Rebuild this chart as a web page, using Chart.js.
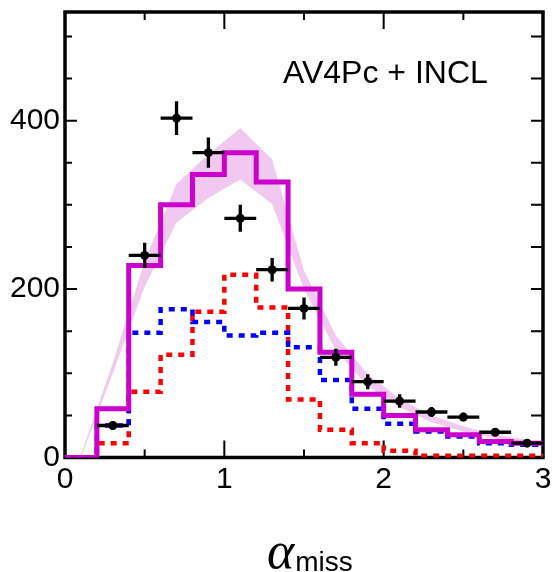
<!DOCTYPE html>
<html>
<head>
<meta charset="utf-8">
<script src="https://cdn.jsdelivr.net/npm/chart.js@4.4.1/dist/chart.umd.min.js"></script>
<style>
  html, body { margin: 0; padding: 0; background: #fff; }
  #wrap { position: relative; width: 554px; height: 572px; }
  #label { position: absolute; left: 283px; top: 56px; font: 32px "Liberation Sans", Arial, sans-serif; line-height: 1; white-space: nowrap; }
  #xtitle { position: absolute; left: 267px; top: 521px; font-size: 52px; line-height: 1; white-space: nowrap; }
  #xtitle .a { font: italic 52px "Liberation Serif", serif; }
  #xtitle .s { font: 28px "Liberation Sans", Arial, sans-serif; position: relative; top: 3px; margin-left: 1px; }
</style>
</head>
<body>
<div id="wrap">
  <canvas id="chart" width="554" height="572"></canvas>
  <div id="label">AV4Pc + INCL</div>
  <div id="xtitle"><span class="a">α</span><span class="s">miss</span></div>
</div>
<script>
// bin edges of the histograms (0.2 wide)
const binEdges = [0, 0.2, 0.4, 0.6, 0.8, 1.0, 1.2, 1.4, 1.6, 1.8, 2.0, 2.2, 2.4, 2.6, 2.8, 3.0];
const binCenters = [0.1, 0.3, 0.5, 0.7, 0.9, 1.1, 1.3, 1.5, 1.7, 1.9, 2.1, 2.3, 2.5, 2.7, 2.9];

// one value per bin
const totalHist = [0, 58, 228, 300, 336, 362, 327, 200, 125, 75, 50, 33, 27, 19, 17];
const blueHist = [0, 38, 148, 176, 161, 145, 148, 131, 92, 58, 40, 31, 25, 17, 15];
const redHist = [0, 17, 78, 122, 173, 217, 178, 69, 33, 17, 8, 2, 2, 2, 2];

// shaded band at the bin centres
const bandUpper = [3, 112, 233, 325, 360, 391, 354, 222, 145, 99, 70, 50, 37, 27, 21];
const bandLower = [0, 100, 203, 279, 308, 330, 301, 200, 127, 85, 60, 42, 31, 23, 17];

// data points
const dataX = [0.3, 0.5, 0.7, 0.9, 1.1, 1.3, 1.5, 1.7, 1.9, 2.1, 2.3, 2.5, 2.7, 2.9];
const dataY = [38, 240, 403, 362, 284, 223, 177, 119, 90, 67, 54, 48, 30, 17];
const dataErr = [5, 15, 20, 18, 16, 14, 13, 10, 9, 8, 6, 5, 4, 3];
const xErr = 0.1;

const xTicks = [0, 1, 2, 3];
const yTicks = [0, 200, 400];

function histPoints(vals) {
  const pts = vals.map((v, i) => ({ x: binEdges[i], y: v }));
  pts.push({ x: binEdges[binEdges.length - 1], y: vals[vals.length - 1] });
  return pts;
}

function bandPoints(vals) {
  return vals.map((v, i) => ({ x: binCenters[i], y: v }));
}

// frame + inward ticks on all four sides
const frameTicks = {
  id: "frameTicks",
  beforeDatasetsDraw(chart) {
    const { ctx, chartArea: a, scales } = chart;
    const xs = scales.x, ys = scales.y;
    ctx.save();
    ctx.strokeStyle = "#000";
    ctx.lineWidth = 2;
    ctx.beginPath();
    for (let v = 0; v <= 3.001; v += 0.5) {
      const px = xs.getPixelForValue(v);
      const len = Math.abs(v - Math.round(v)) < 1e-6 ? 17 : 8;
      ctx.moveTo(px, a.bottom); ctx.lineTo(px, a.bottom - len);
      ctx.moveTo(px, a.top); ctx.lineTo(px, a.top + len);
    }
    for (let v = 0; v <= 529; v += 50) {
      const py = ys.getPixelForValue(v);
      const len = v % 200 === 0 ? 12 : 7;
      ctx.moveTo(a.left, py); ctx.lineTo(a.left + len, py);
      ctx.moveTo(a.right, py); ctx.lineTo(a.right - 12, py);
    }
    ctx.stroke();
    ctx.lineWidth = 3.5;
    ctx.strokeRect(a.left, a.top, a.right - a.left, a.bottom - a.top);
    ctx.restore();
  }
};

const errorBars = {
  id: "errorBars",
  afterDatasetsDraw(chart) {
    const { ctx, scales } = chart;
    const xs = scales.x, ys = scales.y;
    ctx.save();
    ctx.strokeStyle = "#000";
    ctx.lineWidth = 3.3;
    ctx.beginPath();
    dataX.forEach((x, i) => {
      const y = dataY[i];
      ctx.moveTo(xs.getPixelForValue(x - xErr), ys.getPixelForValue(y));
      ctx.lineTo(xs.getPixelForValue(x + xErr), ys.getPixelForValue(y));
      ctx.moveTo(xs.getPixelForValue(x), ys.getPixelForValue(y - dataErr[i]));
      ctx.lineTo(xs.getPixelForValue(x), ys.getPixelForValue(y + dataErr[i]));
    });
    ctx.stroke();
    ctx.restore();
  }
};

const ctx = document.getElementById("chart").getContext("2d");
const chart = new Chart(ctx, {
  type: "line",
  data: {
    datasets: [
      {
        data: dataX.map((x, i) => ({ x, y: dataY[i] })),
        showLine: false,
        pointRadius: 4.5,
        pointBackgroundColor: "#000",
        pointBorderWidth: 0,
        order: 1,
      },
      {
        data: histPoints(totalHist),
        stepped: true,
        borderColor: "#cc00cc",
        borderWidth: 5,
        pointRadius: 0,
        fill: false,
        order: 2,
      },
      {
        data: histPoints(blueHist),
        stepped: true,
        borderColor: "#0000ff",
        borderWidth: 4.5,
        borderDash: [6, 6],
        pointRadius: 0,
        fill: false,
        order: 3,
      },
      {
        data: histPoints(redHist),
        stepped: true,
        borderColor: "#ff0000",
        borderWidth: 4.5,
        borderDash: [6, 6],
        pointRadius: 0,
        fill: false,
        order: 4,
      },
      {
        data: bandPoints(bandLower),
        borderWidth: 0,
        pointRadius: 0,
        fill: false,
        order: 10,
      },
      {
        data: bandPoints(bandUpper),
        borderWidth: 0,
        pointRadius: 0,
        backgroundColor: "#f0c8f0",
        fill: "-1",
        order: 10,
      },
    ],
  },
  options: {
    responsive: false,
    animation: false,
    devicePixelRatio: 1,
    layout: { padding: { top: 12, right: 11, left: 0, bottom: 0 } },
    plugins: { legend: { display: false }, tooltip: { enabled: false } },
    scales: {
      x: {
        type: "linear",
        min: 0,
        max: 3,
        grid: { display: false, drawTicks: false },
        border: { display: false },
        afterBuildTicks: (s) => { s.ticks = xTicks.map((v) => ({ value: v })); },
        afterFit: (s) => { s.height = 114.5; s.paddingLeft = 0; s.paddingRight = 0; },
        ticks: {
          color: "#000",
          padding: 4,
          maxRotation: 0,
          font: { family: "'Liberation Sans', Arial, sans-serif", size: 30 },
        },
      },
      y: {
        type: "linear",
        min: 0,
        max: 529,
        grid: { display: false, drawTicks: false },
        border: { display: false },
        afterBuildTicks: (s) => { s.ticks = yTicks.map((v) => ({ value: v })); },
        afterFit: (s) => { s.width = 65; s.paddingTop = 0; s.paddingBottom = 0; },
        ticks: {
          color: "#000",
          padding: 5,
          font: { family: "'Liberation Sans', Arial, sans-serif", size: 30 },
        },
      },
    },
  },
  plugins: [frameTicks, errorBars],
});
</script>
</body>
</html>
